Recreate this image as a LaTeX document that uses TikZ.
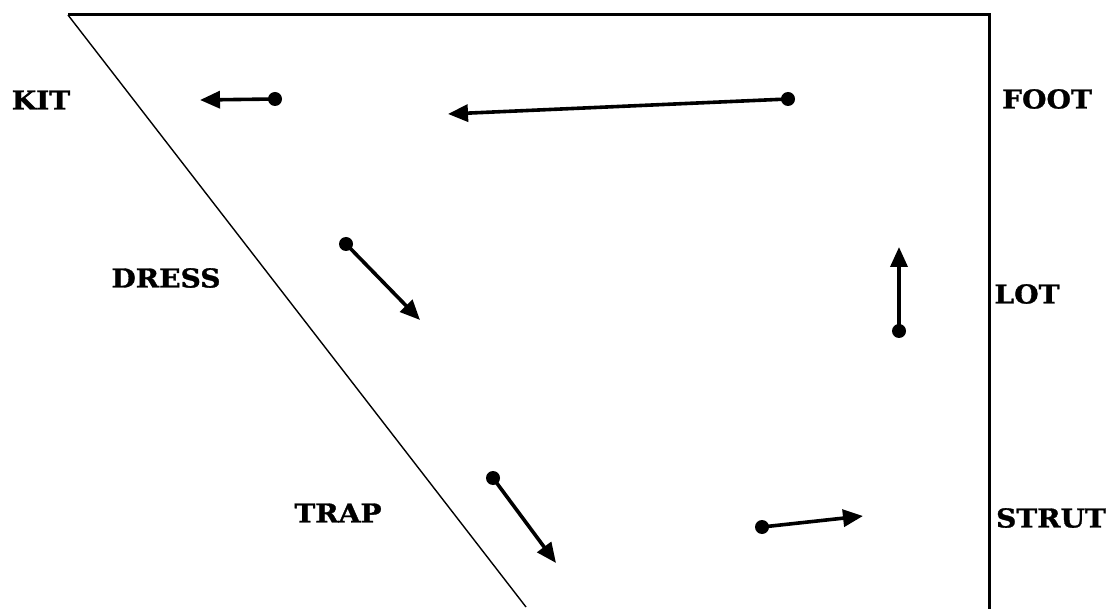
\documentclass[tikz,border=0pt]{standalone}
\usepackage{fontspec}
\setmainfont{DejaVu Serif}
\newfontfamily\lblfont[FakeStretch=1.08,FakeBold=1.2]{DejaVu Serif}
\usetikzlibrary{arrows.meta}
\begin{document}
\begin{tikzpicture}[x=1pt,y=-1pt,
  lbl/.style={font=\lblfont\fontsize{26}{26}\selectfont\bfseries, inner sep=0pt},
  dot/.style={circle,fill=black,inner sep=0pt,minimum size=14pt},
  mv/.style={line width=3.6pt,-{Triangle[length=20pt,width=17pt]}},
  frame/.style={line width=3pt},
  slant/.style={line width=1.4pt}
]
\useasboundingbox (0,0) rectangle (1116,609);
% frame
\coordinate (tl) at (68,15);
\coordinate (tr) at (989,15);
\coordinate (br) at (989,609);
\coordinate (bl) at (526,607);
\draw[frame,line join=miter] (tl) -- (tr) -- (br);
\draw[slant] (tl) -- (bl);
% labels
\node[lbl] (kit) at (41,100) {KIT};
\node[lbl] (foot) at (1047,99) {FOOT};
\node[lbl] (dress) at (166,278) {DRESS};
\node[lbl] (lot) at (1027,294) {LOT};
\node[lbl] (trap) at (338,513) {TRAP};
\node[lbl] (strut) at (1051,518) {STRUT};
% arrows
\node[dot] (k0) at (275,99) {};
\coordinate (k1) at (200,100);
\draw[mv] (k0.center) -- (k1);
\node[dot] (f0) at (788,99) {};
\coordinate (f1) at (448,114);
\draw[mv] (f0.center) -- (f1);
\node[dot] (d0) at (346,244) {};
\coordinate (d1) at (420,320);
\draw[mv] (d0.center) -- (d1);
\node[dot] (l0) at (899,331) {};
\coordinate (l1) at (899,247);
\draw[mv] (l0.center) -- (l1);
\node[dot] (t0) at (493,478) {};
\coordinate (t1) at (556,563);
\draw[mv] (t0.center) -- (t1);
\node[dot] (s0) at (762,527) {};
\coordinate (s1) at (863,516);
\draw[mv] (s0.center) -- (s1);
\end{tikzpicture}
\end{document}
